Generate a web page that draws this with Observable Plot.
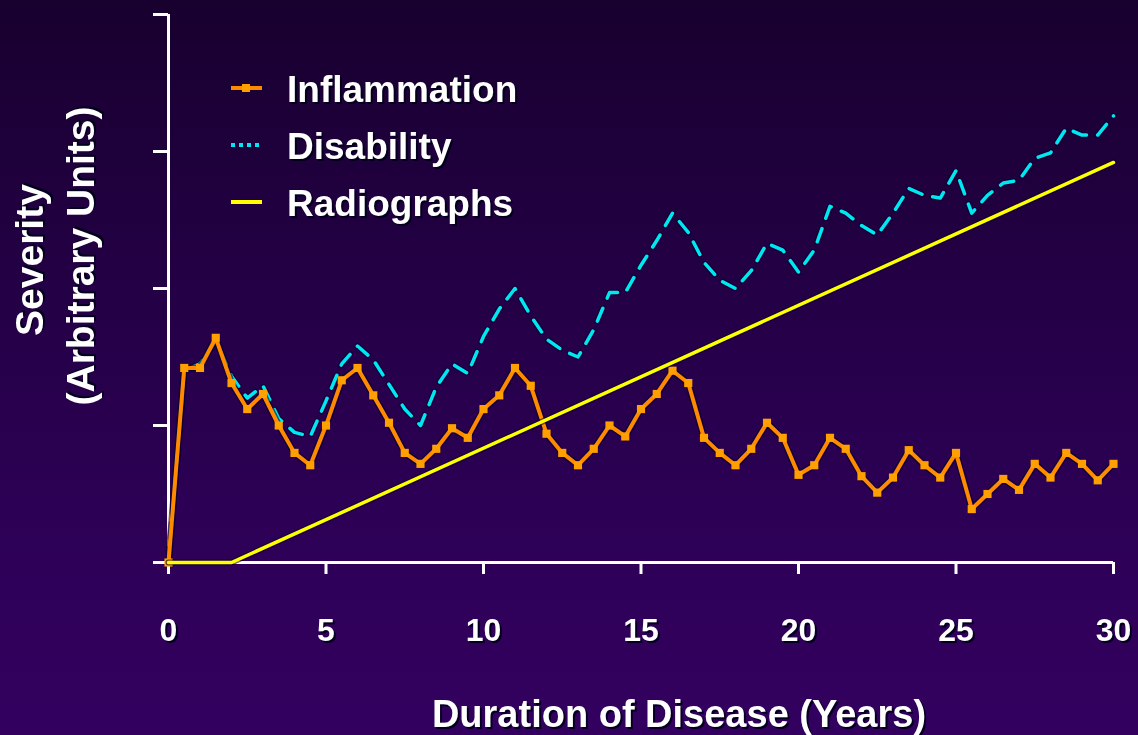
<!DOCTYPE html>
<html>
<head>
<meta charset="utf-8">
<script src="https://cdn.jsdelivr.net/npm/d3@7"></script>
<script src="https://cdn.jsdelivr.net/npm/@observablehq/plot@0.6"></script>
<style>
  html, body { margin: 0; padding: 0; }
  body {
    width: 1138px; height: 735px; overflow: hidden;
    background: linear-gradient(to bottom, #18002f 0%, #240046 40%, #2e0058 75%, #33005f 100%);
    font-family: "Liberation Sans", Arial, sans-serif;
  }
  #chart svg text { font-weight: bold; fill: #ffffff; filter: drop-shadow(2px 2px 0px rgba(0,0,25,0.9)); }
</style>
</head>
<body>
<div id="chart"></div>
<script>
// ---- data ----
const years = [0,0.5,1,1.5,2,2.5,3,3.5,4,4.5,5,5.5,6,6.5,7,7.5,8,8.5,9,9.5,10,10.5,11,11.5,12,12.5,13,13.5,14,14.5,15,15.5,16,16.5,17,17.5,18,18.5,19,19.5,20,20.5,21,21.5,22,22.5,23,23.5,24,24.5,25,25.5,26,26.5,27,27.5,28,28.5,29,29.5,30];
const inflammation = [0,1.42,1.42,1.64,1.31,1.12,1.23,1.00,0.80,0.71,1.00,1.33,1.42,1.22,1.02,0.80,0.72,0.83,0.98,0.91,1.12,1.22,1.42,1.29,0.94,0.80,0.71,0.83,1.00,0.92,1.12,1.23,1.40,1.31,0.91,0.80,0.71,0.83,1.02,0.91,0.64,0.71,0.91,0.83,0.63,0.51,0.62,0.82,0.71,0.62,0.80,0.39,0.50,0.61,0.53,0.72,0.62,0.80,0.72,0.60,0.72];
const disability = [0,1.40,1.45,1.62,1.36,1.20,1.29,1.05,0.95,0.92,1.18,1.45,1.58,1.48,1.30,1.12,1.00,1.28,1.45,1.38,1.65,1.85,2.00,1.80,1.63,1.55,1.50,1.70,1.97,1.97,2.17,2.35,2.55,2.41,2.19,2.06,2.00,2.13,2.33,2.28,2.12,2.28,2.60,2.55,2.46,2.39,2.55,2.73,2.68,2.66,2.86,2.55,2.68,2.77,2.79,2.95,2.99,3.17,3.12,3.12,3.26];
const radiographYears = [0, 2, 30];
const radiographs = [0, 0, 2.92];
const xTicks = [0, 5, 10, 15, 20, 25, 30];
const yTicks = [0, 1, 2, 3, 4];
const seriesNames = ["Inflammation", "Disability", "Radiographs"];
const xTitle = "Duration of Disease (Years)";
const yTitle = ["Severity", "(Arbitrary Units)"];

const colInf = "#ff8a00", colInfDot = "#ffa000", colDis = "#00e6f2", colRad = "#ffff00";

const infRows = years.map((t, i) => ({t, v: inflammation[i]}));
const disRows = years.map((t, i) => ({t, v: disability[i]}));
const radRows = radiographYears.map((t, i) => ({t, v: radiographs[i]}));

const halo = "#08002a";

const plot = Plot.plot({
  width: 1138, height: 735,
  marginLeft: 168, marginRight: 25, marginTop: 14, marginBottom: 173,
  style: {background: "transparent", color: "white", fontFamily: "'Liberation Sans', Arial, sans-serif", overflow: "visible"},
  x: {domain: [0, 30]},
  y: {domain: [0, 4]},
  marks: [
    Plot.axisX({ticks: xTicks, tickSize: 12, tickPadding: 44, fontSize: 32, fontWeight: "bold", strokeWidth: 3, stroke: "white", fill: "white", label: null}),
    Plot.axisY({ticks: yTicks, tickSize: 15, tickFormat: () => "", strokeWidth: 3, stroke: "white", label: null}),
    Plot.ruleY([0], {stroke: "white", strokeWidth: 3}),
    Plot.ruleX([0], {stroke: "white", strokeWidth: 3}),
    Plot.line(disRows, {x: "t", y: "v", stroke: halo, strokeWidth: 6, strokeOpacity: 0.6, strokeDasharray: "14,11"}),
    Plot.line(disRows, {x: "t", y: "v", stroke: colDis, strokeWidth: 3.5, strokeDasharray: "14,11"}),
    Plot.line(infRows, {x: "t", y: "v", stroke: halo, strokeWidth: 7, strokeOpacity: 0.6}),
    Plot.line(infRows, {x: "t", y: "v", stroke: colInf, strokeWidth: 4}),
    Plot.dot(infRows, {x: "t", y: "v", symbol: "square", r: 4.6, fill: colInfDot, stroke: "none"}),
    Plot.line(radRows, {x: "t", y: "v", stroke: halo, strokeWidth: 6, strokeOpacity: 0.6}),
    Plot.line(radRows, {x: "t", y: "v", stroke: colRad, strokeWidth: 3.5})
  ]
});
document.getElementById("chart").appendChild(plot);

// ---- titles and legend ----
const svg = d3.select(plot);
svg.append("text").attr("x", 679).attr("y", 727).attr("text-anchor", "middle")
  .style("font-size", "38px").text(xTitle);
svg.append("text").attr("transform", "translate(43,260) rotate(-90)").attr("text-anchor", "middle")
  .style("font-size", "39px").text(yTitle[0]);
svg.append("text").attr("transform", "translate(94,256) rotate(-90)").attr("text-anchor", "middle")
  .style("font-size", "39px").text(yTitle[1]);

const legend = [
  {name: seriesNames[0], y: 88, color: colInf, dash: null, dot: true},
  {name: seriesNames[1], y: 145, color: colDis, dash: "4,4", dot: false},
  {name: seriesNames[2], y: 202, color: colRad, dash: null, dot: false}
];
const lg = svg.append("g");
legend.forEach(d => {
  lg.append("line").attr("x1", 231).attr("x2", 262).attr("y1", d.y).attr("y2", d.y)
    .attr("stroke", d.color).attr("stroke-width", 4).attr("stroke-dasharray", d.dash);
  if (d.dot) lg.append("rect").attr("x", 242).attr("y", d.y - 4).attr("width", 8).attr("height", 8).attr("fill", colInfDot);
  lg.append("text").attr("x", 287).attr("y", d.y + 14).attr("text-anchor", "start").style("font-size", "37px").text(d.name);
});
</script>
</body>
</html>
